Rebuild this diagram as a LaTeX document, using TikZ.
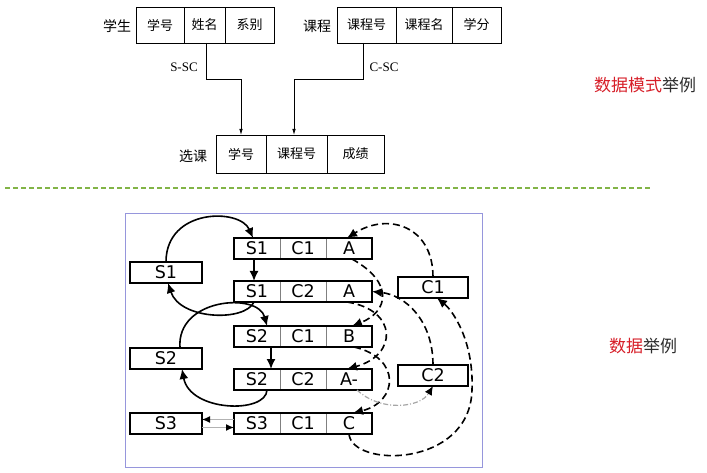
\documentclass[tikz,border=0pt]{standalone}
\usepackage{fontspec}
\setmainfont{DejaVu Sans}
\newfontfamily\cjk{Noto Sans CJK SC}
\newfontfamily\serifen{Liberation Serif}
\usetikzlibrary{arrows.meta}
\definecolor{labred}{RGB}{215,30,40}
\definecolor{labdark}{RGB}{45,45,45}
\definecolor{sepgreen}{RGB}{130,180,70}
\definecolor{framebl}{RGB}{150,150,220}
\begin{document}
\begin{tikzpicture}[x=1pt,y=-1pt,
  tcell/.style={draw, line width=0.8pt, minimum height=36pt, inner sep=0pt, outer sep=0pt, anchor=north west, font=\cjk\fontsize{13}{13}\selectfont},
  tlab/.style={font=\cjk\fontsize{14}{14}\selectfont, inner sep=0pt},
  elab/.style={font=\serifen\fontsize{13}{13}\selectfont, inner sep=0pt},
  tarr/.style={line width=0.8pt, -{Latex[length=6pt,width=3.5pt]}},
  rcell/.style={draw=gray, line width=0.6pt, minimum width=46pt, minimum height=21pt, inner sep=0pt, outer sep=0pt, anchor=north west, font=\fontsize{17.5}{17.5}\selectfont},
  obox/.style={draw, line width=1.9pt, minimum width=72pt, minimum height=21pt, inner sep=0pt, outer sep=0pt, anchor=north west, font=\fontsize{17.5}{17.5}\selectfont},
  rframe/.style={line width=1.9pt},
  sarr/.style={line width=1.6pt, -{Latex[length=10pt,width=9pt]}},
  darr/.style={line width=1.6pt, dash pattern=on 7pt off 4pt, -{Latex[length=10pt,width=9pt]}},
  garr/.style={draw=gray!60, line width=1.3pt, -{Latex[length=8pt,width=7pt,color=black]}},
  gdarr/.style={draw=gray!70, line width=1.2pt, dash pattern=on 5pt off 2pt on 1pt off 2pt, -{Latex[length=9pt,width=8pt,color=black]}},
  biglab/.style={font=\cjk\fontsize{17}{17}\selectfont, inner sep=0pt}
]
\useasboundingbox (0,0) rectangle (707,473);
\fill[white] (0,0) rectangle (707,473);

% ---------- top: schema ----------
\node[tlab] (lstu) at (117,26) {学生};
\node[tcell, minimum width=48pt] (stu1) at (136,7) {学号};
\node[tcell, minimum width=41pt] (stu2) at (184,7) {姓名};
\node[tcell, minimum width=49pt] (stu3) at (225,7) {系别};

\node[tlab] (lcou) at (317,26) {课程};
\node[tcell, minimum width=59pt] (cou1) at (337,7) {课程号};
\node[tcell, minimum width=56pt] (cou2) at (396,7) {课程名};
\node[tcell, minimum width=49pt] (cou3) at (452,7) {学分};

\node[tlab] (lsc) at (193,156) {选课};
\node[tcell, minimum width=50pt, minimum height=38pt] (sc1) at (216,135) {学号};
\node[tcell, minimum width=61pt, minimum height=38pt] (sc2) at (266,135) {课程号};
\node[tcell, minimum width=57pt, minimum height=38pt] (sc3) at (327,135) {成绩};

\draw[tarr] ([xshift=1.5pt]stu2.south) -- ++(0,36) -| (sc1.north);
\draw[tarr] ([xshift=-3.5pt]cou1.south) -- ++(0,36) -| ([xshift=-2.5pt]sc2.north);
\node[elab] (lssc) at (184,67) {S-SC};
\node[elab] (lcsc) at (384,67) {C-SC};

\node[biglab] (lab1) at (645,85) {\textcolor{labred}{数据模式}\textcolor{labdark}{举例}};

% ---------- separator ----------
\draw[sepgreen, line width=1.3pt, dash pattern=on 5pt off 3pt] (5,188) -- (650,188);

\node[biglab] (lab2) at (643,346) {\textcolor{labred}{数据}\textcolor{labdark}{举例}};

% ---------- bottom: data ----------
\draw[framebl, line width=1pt] (125,214) rectangle (482,467);

\node[obox] (s1) at (130,262) {S1};
\node[obox] (s2) at (130,348) {S2};
\node[obox] (s3) at (130,413) {S3};
\node[obox, minimum width=70pt] (c1) at (398,277) {C1};
\node[obox, minimum width=70pt] (c2) at (398,365) {C2};

\node[rcell] (r1a) at (234,238) {S1};
\node[rcell] (r1b) at (280,238) {C1};
\node[rcell] (r1c) at (326,238) {A};
\node[rcell] (r2a) at (234,281) {S1};
\node[rcell] (r2b) at (280,281) {C2};
\node[rcell] (r2c) at (326,281) {A};
\node[rcell] (r3a) at (234,326) {S2};
\node[rcell] (r3b) at (280,326) {C1};
\node[rcell] (r3c) at (326,326) {B};
\node[rcell] (r4a) at (234,369) {S2};
\node[rcell] (r4b) at (280,369) {C2};
\node[rcell] (r4c) at (326,369) {A-};
\node[rcell] (r5a) at (234,413) {S3};
\node[rcell] (r5b) at (280,413) {C1};
\node[rcell] (r5c) at (326,413) {C};
\foreach \r in {r1,r2,r3,r4,r5}
  \draw[rframe] (\r a.north west) rectangle (\r c.south east);

% solid student chains
\draw[sarr] (s1.north) .. controls (166,208) and (240,208) .. ([xshift=-4pt]r1a.north);
\draw[sarr] ([xshift=-3pt]r1a.south) -- ([xshift=-3pt]r2a.north);
\draw[sarr] ([xshift=-3pt]r2a.south) .. controls (245,322) and (180,320) .. ([xshift=2pt]s1.south);
\draw[sarr] ([xshift=14pt]s2.north) .. controls (176,298) and (258,292) .. ([xshift=10pt]r3a.north);
\draw[sarr] ([xshift=14pt]r3a.south) -- ([xshift=14pt]r4a.north);
\draw[sarr] ([xshift=10pt]r4a.south) .. controls (266,414) and (190,412) .. ([xshift=16pt]s2.south);
\draw[garr] ([yshift=4pt]r5a.west) -- ([yshift=4pt]s3.east);
\draw[garr] ([yshift=-4pt]s3.east) -- ([yshift=-4pt]r5a.west);

% dashed course chains
\draw[darr] (c1.north) .. controls (433,226) and (388,212) .. ([xshift=-2pt]r1c.north);
\draw[darr] ([xshift=3pt]r1c.south) .. controls (395,283) and (388,312) .. ([xshift=3pt]r3c.north);
\draw[darr] (c2.north) .. controls (433,320) and (405,295) .. (r2c.east);
\draw[darr] ([xshift=-2pt]r2c.south) .. controls (398,310) and (398,355) .. ([xshift=-2pt]r4c.north);
\draw[darr] ([xshift=5pt]r3c.south) .. controls (402,358) and (398,402) .. ([xshift=4pt]r5c.north);
\draw[gdarr] ([xshift=8pt]r4c.south) .. controls (380,412) and (420,408) .. (c2.south);
\coordinate (rturn) at (472,390);
\draw[darr] (r5c.south) .. controls (352,468) and (470,468) .. (rturn) .. controls (474,340) and (452,310) .. ([xshift=4pt]c1.south);
\end{tikzpicture}
\end{document}
